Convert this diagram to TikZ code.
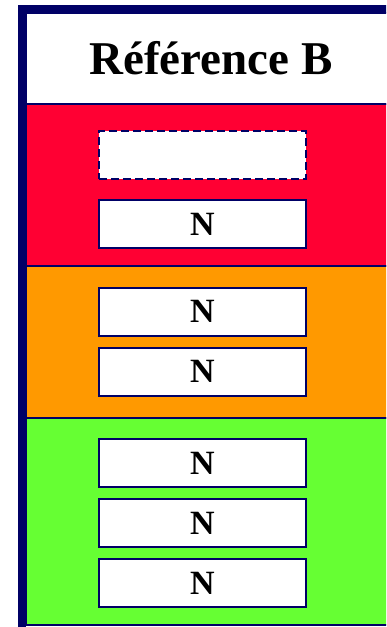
\documentclass[tikz,border=0pt]{standalone}
\usepackage{fontspec}
\setmainfont{Liberation Serif}
\usetikzlibrary{positioning}
\definecolor{Navy}{HTML}{000066}
\definecolor{RedBand}{HTML}{FF0033}
\definecolor{OrangeBand}{HTML}{FF9900}
\definecolor{GreenBand}{HTML}{66FF33}

\begin{document}
\begin{tikzpicture}[
      x=1pt, y=1pt,
      band/.style={
        draw=Navy,
        line width=1.5pt,
        outer sep=0pt,
        inner sep=0pt,
        minimum width=370pt
      },
      cell/.style={
        draw=Navy,
        line width=2pt,
        fill=white,
        minimum width=207pt,
        minimum height=48pt,
        inner sep=0pt,
        font=\fontsize{34}{40}\selectfont\bfseries
      },
      blank/.style={cell, dash pattern=on 8pt off 4pt},
      node distance=10pt
    ]
      \useasboundingbox (0,0) rectangle (386,-627);
      \clip (0,0) rectangle (386,-627);
      \node[band, fill=white, minimum height=91pt, anchor=north west,
            font=\fontsize{47}{54}\selectfont\bfseries] (head) at (26,-13) {Référence B};
      \node[band, fill=RedBand, minimum height=162pt, below=0pt of head] (redband) {};
      \node[band, fill=OrangeBand, minimum height=152pt, below=0pt of redband] (orangeband) {};
      \node[band, fill=GreenBand, minimum height=207pt, below=0pt of orangeband] (greenband) {};
      \draw[Navy, line width=8pt] (22,-627) -- (22,-9) -- (400,-9);
      \node[blank] (empty) at (202.5,-155) {};
      \node[cell, below=19pt of empty] (redN) {N};
      \node[cell] (orangeA) at (202.5,-311.5) {N};
      \node[cell, below=of orangeA] (orangeB) {N};
      \node[cell] (greenA) at (202.5,-463) {N};
      \node[cell, below=of greenA] (greenB) {N};
      \node[cell, below=of greenB] (greenC) {N};
    \end{tikzpicture}
\end{document}
